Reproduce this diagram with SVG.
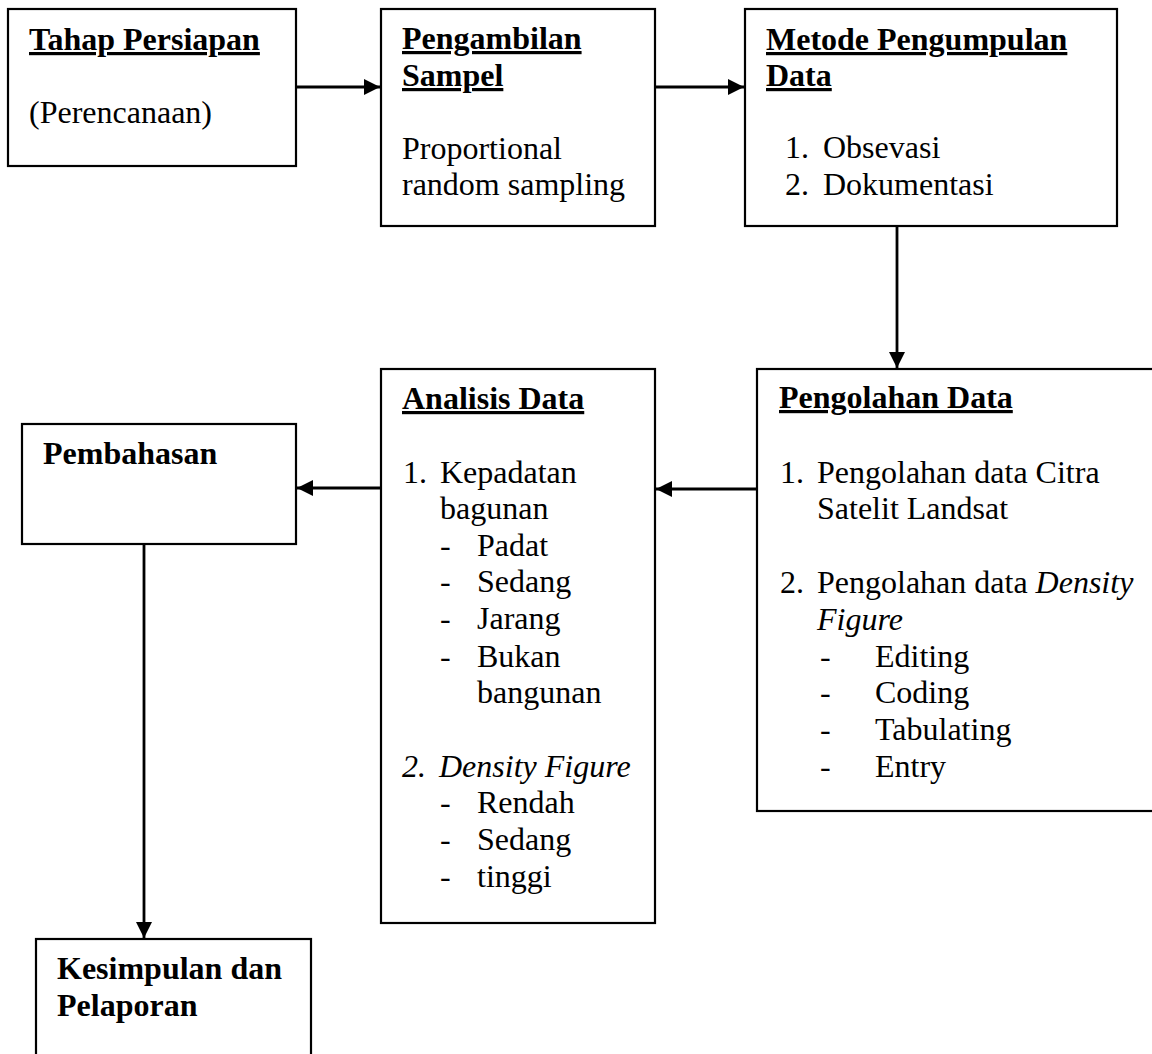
<svg xmlns="http://www.w3.org/2000/svg" width="1152" height="1054" viewBox="0 0 1152 1054">
<style>
text{font-family:"Liberation Serif","Times New Roman",serif;font-size:32px;fill:#000}
.t{font-weight:bold}
.u{font-weight:bold;text-decoration:underline}
.i{font-style:italic}
.box{fill:#fff;stroke:#000;stroke-width:2.2}
.ln{stroke:#000;stroke-width:2.8;fill:none;marker-end:url(#ah)}
</style>
<defs>
<marker id="ah" markerUnits="userSpaceOnUse" markerWidth="17" markerHeight="17" refX="16" refY="8" orient="auto">
<path d="M0,0 L16,8 L0,16 z" fill="#000"/>
</marker>
</defs>
<g id="connectors">
<line class="ln" x1="296" y1="87" x2="380" y2="87"/>
<line class="ln" x1="655" y1="87" x2="744" y2="87"/>
<line class="ln" x1="897" y1="226" x2="897" y2="368"/>
<line class="ln" x1="757" y1="489" x2="656" y2="489"/>
<line class="ln" x1="381" y1="488" x2="297" y2="488"/>
<line class="ln" x1="144" y1="544" x2="144" y2="938"/>
</g>
<g id="tahap">
<rect class="box" x="8" y="9" width="288" height="157"/>
<text class="u" x="29" y="50">Tahap Persiapan</text>
<text x="29" y="123">(Perencanaan)</text>
</g>
<g id="pengambilan">
<rect class="box" x="381" y="9" width="274" height="217"/>
<text class="u" x="402" y="49">Pengambilan</text>
<text class="u" x="402" y="86">Sampel</text>
<text x="402" y="159">Proportional</text>
<text x="402" y="195">random sampling</text>
</g>
<g id="metode">
<rect class="box" x="745" y="9" width="372" height="217"/>
<text class="u" x="766" y="50">Metode Pengumpulan</text>
<text class="u" x="766" y="86">Data</text>
<text x="785" y="158">1.</text><text x="823" y="158">Obsevasi</text>
<text x="785" y="195">2.</text><text x="823" y="195">Dokumentasi</text>
</g>
<g id="pengolahan">
<rect class="box" x="757" y="369" width="400" height="442"/>
<text class="u" x="779" y="408">Pengolahan Data</text>
<text x="780" y="483">1.</text><text x="817" y="483">Pengolahan data Citra</text>
<text x="817" y="519">Satelit Landsat</text>
<text x="780" y="593">2.</text><text x="817" y="593">Pengolahan data <tspan class="i">Density</tspan></text>
<text class="i" x="817" y="630">Figure</text>
<text x="820" y="667">-</text><text x="875" y="667">Editing</text>
<text x="820" y="703">-</text><text x="875" y="703">Coding</text>
<text x="820" y="740">-</text><text x="875" y="740">Tabulating</text>
<text x="820" y="777">-</text><text x="875" y="777">Entry</text>
</g>
<g id="analisis">
<rect class="box" x="381" y="369" width="274" height="554"/>
<text class="u" x="402" y="409">Analisis Data</text>
<text x="403" y="483">1.</text><text x="440" y="483">Kepadatan</text>
<text x="440" y="519">bagunan</text>
<text x="440" y="556">-</text><text x="477" y="556">Padat</text>
<text x="440" y="592">-</text><text x="477" y="592">Sedang</text>
<text x="440" y="629">-</text><text x="477" y="629">Jarang</text>
<text x="440" y="667">-</text><text x="477" y="667">Bukan</text>
<text x="477" y="703">bangunan</text>
<text class="i" x="402" y="777">2.</text><text class="i" x="439" y="777">Density Figure</text>
<text x="440" y="813">-</text><text x="477" y="813">Rendah</text>
<text x="440" y="850">-</text><text x="477" y="850">Sedang</text>
<text x="440" y="887">-</text><text x="477" y="887">tinggi</text>
</g>
<g id="pembahasan">
<rect class="box" x="22" y="424" width="274" height="120"/>
<text class="t" x="43" y="464">Pembahasan</text>
</g>
<g id="kesimpulan">
<rect class="box" x="36" y="939" width="275" height="130"/>
<text class="t" x="57" y="979">Kesimpulan dan</text>
<text class="t" x="57" y="1016">Pelaporan</text>
</g>
</svg>
